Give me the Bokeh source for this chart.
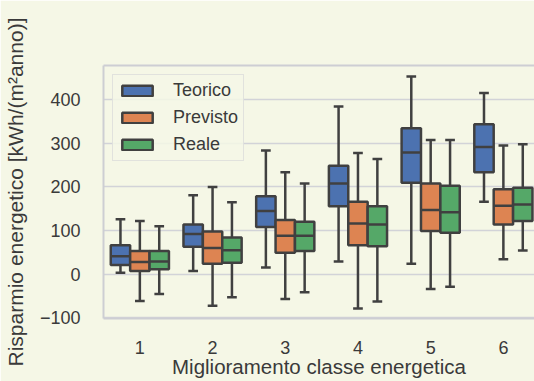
from bokeh.plotting import figure
from bokeh.models import ColumnDataSource, LinearAxis, FixedTicker, Range1d
from bokeh.embed import file_html
from bokeh.resources import INLINE

# ---- data ----
categories = [1, 2, 3, 4, 5, 6]
series_names = ["Teorico", "Previsto", "Reale"]

teorico_low = [3, 7, 15, 29, 24, 166]
teorico_q1 = [21, 63, 108, 156, 210, 234]
teorico_med = [41, 92, 145, 208, 279, 292]
teorico_q3 = [66, 114, 179, 249, 335, 344]
teorico_high = [126, 181, 284, 385, 454, 416]

previsto_low = [-62, -73, -57, -79, -34, 34]
previsto_q1 = [7, 24, 49, 66, 99, 114]
previsto_med = [28, 60, 88, 116, 147, 157]
previsto_q3 = [53, 98, 124, 166, 208, 195]
previsto_high = [122, 200, 234, 278, 308, 295]

reale_low = [-46, -53, -42, -63, -29, 54]
reale_q1 = [11, 26, 53, 64, 95, 122]
reale_med = [29, 55, 88, 114, 142, 160]
reale_q3 = [53, 84, 120, 156, 203, 198]
reale_high = [110, 165, 208, 264, 308, 298]

y_ticks = [-100, 0, 100, 200, 300, 400]

# ---- style ----
BG = "#f5f7e6"
GRID = "#d2d3d8"
FRAME = "#cdced3"
EDGE = "#404040"
TEXT = "#3a3a3a"
FONT = "Liberation Sans"
colors = ["#4c72b0", "#dd8452", "#55a868"]

stats = [
    (teorico_low, teorico_q1, teorico_med, teorico_q3, teorico_high),
    (previsto_low, previsto_q1, previsto_med, previsto_q3, previsto_high),
    (reale_low, reale_q1, reale_med, reale_q3, reale_high),
]

group_w = 0.8
box_w = group_w / len(series_names)

p = figure(width=534, height=381, output_backend="svg", toolbar_location=None,
           x_range=Range1d(0.5, 6.428), y_range=Range1d(-102, 479),
           min_border_left=103, min_border_right=0, min_border_top=65,
           min_border_bottom=63)
p.background_fill_color = BG
p.border_fill_color = BG
p.outline_line_color = None

for i, (name, col, (lo, q1, med, q3, hi)) in enumerate(zip(series_names, colors, stats)):
    off = -group_w / 2 + box_w * (i + 0.5)
    xs = [c + off for c in categories]
    src = ColumnDataSource(dict(
        x=xs,
        x0=[x - box_w / 2 for x in xs], x1=[x + box_w / 2 for x in xs],
        c0=[x - box_w / 4 for x in xs], c1=[x + box_w / 4 for x in xs],
        lo=lo, q1=q1, med=med, q3=q3, hi=hi))
    p.segment(x0="x", y0="q3", x1="x", y1="hi", source=src, line_color=EDGE, line_width=2.5)
    p.segment(x0="x", y0="q1", x1="x", y1="lo", source=src, line_color=EDGE, line_width=2.5)
    p.vbar(x="x", width=box_w, top="q3", bottom="q1", source=src,
           fill_color=col, line_color=EDGE, line_width=2.5, legend_label=name)
    p.segment(x0="x0", y0="med", x1="x1", y1="med", source=src, line_color=EDGE, line_width=2.5)
    p.segment(x0="c0", y0="hi", x1="c1", y1="hi", source=src, line_color=EDGE, line_width=2.5)
    p.segment(x0="c0", y0="lo", x1="c1", y1="lo", source=src, line_color=EDGE, line_width=2.5)

# axes
for ax in (p.xaxis[0], p.yaxis[0]):
    ax.axis_line_color = FRAME
    ax.axis_line_width = 2
    ax.major_tick_line_color = None
    ax.minor_tick_line_color = None
    ax.major_label_text_font = FONT
    ax.major_label_text_font_size = "18px"
    ax.major_label_text_color = TEXT
    ax.axis_label_text_font = FONT
    ax.axis_label_text_font_style = "normal"
    ax.axis_label_text_color = TEXT

p.xaxis.axis_label_text_font_size = "20.5px"
p.yaxis.axis_label_text_font_size = "21px"
p.xaxis.ticker = FixedTicker(ticks=categories)
p.yaxis.ticker = FixedTicker(ticks=y_ticks)
p.xaxis.major_label_overrides = {c: str(c) for c in categories}
p.yaxis.major_label_overrides = {t: ("\u2212" + str(-t) if t < 0 else str(t)) for t in y_ticks}
p.xaxis.major_label_standoff = 16
p.yaxis.major_label_standoff = 17
p.xaxis.axis_label = "Miglioramento classe energetica"
p.yaxis.axis_label = "Risparmio energetico [kWh/(m\u00b2anno)]"
p.xaxis.axis_label_standoff = -2
p.yaxis.axis_label_standoff = 10

top_axis = LinearAxis(ticker=FixedTicker(ticks=[]), axis_line_color=FRAME, axis_line_width=2,
                      major_tick_line_color=None, minor_tick_line_color=None)
p.add_layout(top_axis, "above")

p.xgrid.grid_line_color = None
p.ygrid.grid_line_color = GRID
p.ygrid.grid_line_width = 1.6

leg = p.legend[0]
leg.location = "top_left"
leg.margin = 9
leg.padding = 5
leg.spacing = 6
leg.glyph_width = 38
leg.glyph_height = 13
leg.label_height = 20
leg.label_standoff = 17
leg.label_text_font = FONT
leg.label_text_font_size = "18px"
leg.label_text_color = TEXT
leg.border_line_color = FRAME
leg.border_line_width = 1.5
leg.background_fill_color = BG
leg.background_fill_alpha = 0.85

open("out.html", "w").write(file_html(p, INLINE))
